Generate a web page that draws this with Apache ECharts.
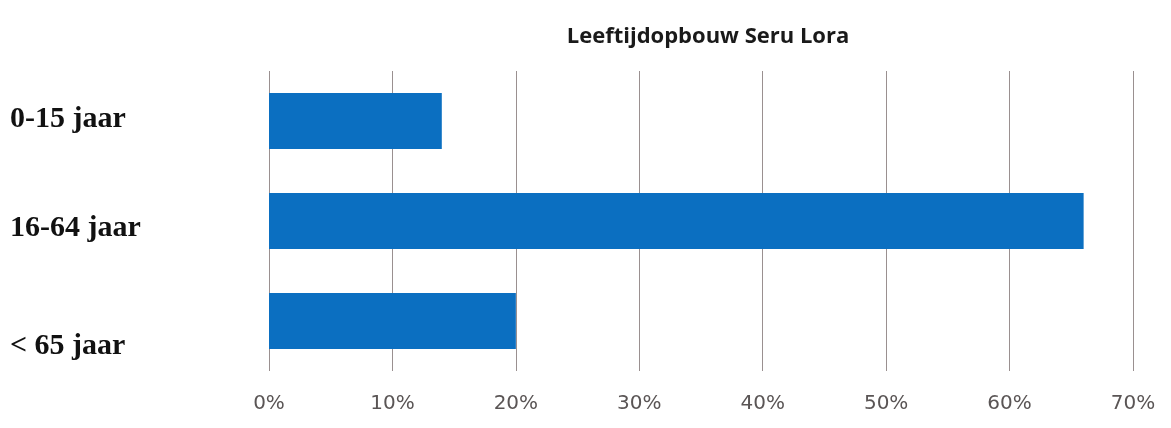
<!DOCTYPE html>
<html>
<head>
<meta charset="utf-8">
<script src="https://cdn.jsdelivr.net/npm/echarts@6/dist/echarts.min.js"></script>
<style>
html, body { margin: 0; padding: 0; background: #fff; }
#chart { width: 1171px; height: 428px; }
</style>
</head>
<body>
<div id="chart"></div>
<script>
var categories = ['0-15 jaar', '16-64 jaar', '< 65 jaar'];
var shares = [14, 66, 20];
var xTicks = [0, 10, 20, 30, 40, 50, 60, 70];
var chartTitle = 'Leeftijdopbouw Seru Lora';

var myChart = echarts.init(document.getElementById('chart'));

// the labels in the picture sit a little lower than the band centres
var labelShift = [-4, 14, 50];
var rich = {};
for (var i in categories) {
    rich['c' + i] = {
        fontFamily: 'Liberation Serif',
        fontWeight: 'bold',
        fontSize: 30,
        color: '#111',
        padding: [Math.max(labelShift[i], 0), 0, Math.max(-labelShift[i], 0), 0]
    };
}

myChart.setOption({
    animation: false,
    title: {
        text: chartTitle,
        left: 703,
        textAlign: 'center',
        top: 21,
        textStyle: {
            fontFamily: 'Open Sans',
            fontWeight: 'bold',
            fontSize: 22,
            color: '#1a1a1a'
        }
    },
    grid: {
        left: 269,
        right: 38,
        top: 71,
        bottom: 57
    },
    xAxis: {
        type: 'value',
        min: xTicks[0],
        max: xTicks[xTicks.length - 1],
        interval: 10,
        axisLine: { show: false },
        axisTick: { show: false },
        axisLabel: {
            margin: 23,
            fontFamily: 'DejaVu Sans',
            fontSize: 20,
            color: '#5a5555',
            formatter: function (v) { return v + '%'; }
        },
        splitLine: {
            show: true,
            lineStyle: { color: '#9a9090', width: 1 }
        }
    },
    yAxis: {
        type: 'category',
        inverse: true,
        data: categories,
        axisLine: { show: false },
        axisTick: { show: false },
        axisLabel: {
            align: 'left',
            margin: 259,
            formatter: function (v, idx) {
                return '{c' + idx + '|' + v + '}';
            },
            rich: rich
        }
    },
    series: [{
        type: 'bar',
        data: shares,
        barWidth: '56%',
        itemStyle: { color: '#0b6fc1' }
    }]
});
</script>
</body>
</html>
